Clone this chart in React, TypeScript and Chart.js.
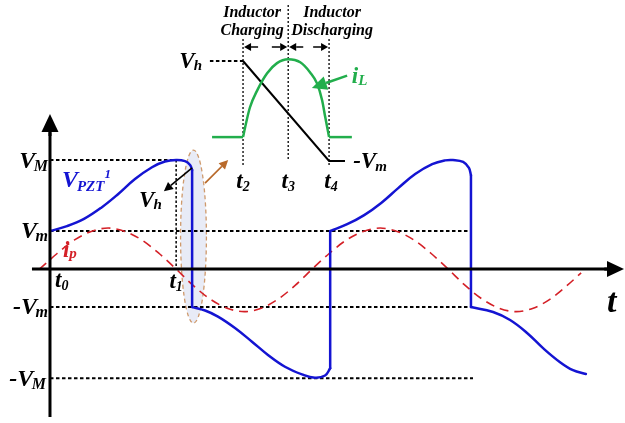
import { useEffect, useRef } from "react";
import { Chart, registerables } from "chart.js";

Chart.register(...registerables);

// ---------- Main timing diagram ----------
// time: eighths of the drive period, t0 = 0 ; voltage: normalised so that Vm = 1
const T1 = 3.71;
const V_PEAK = 2.87; // V_M
const V_MIN = 1.0; // V_m

// V_PZT smooth stretches, split at the fast switching edges
const vpztRise1: [number, number][] = [
  [0, 1.0], [0.5, 1.13], [1.0, 1.32], [1.5, 1.61], [2.0, 1.97], [2.5, 2.37],
  [3.0, 2.68], [3.38, 2.83], [3.71, 2.87], [3.97, 2.84], [4.12, 2.74], [4.18, 2.61],
];
const vpztEdge1: [number, number][] = [[4.18, 2.61], [4.18, -1.0]];
const vpztFall1: [number, number][] = [
  [4.18, -1.0], [4.56, -1.09], [4.94, -1.25], [5.44, -1.55], [5.94, -1.91], [6.41, -2.26],
  [6.91, -2.57], [7.41, -2.77], [7.79, -2.86], [8.09, -2.8], [8.24, -2.61],
];
const vpztEdge2: [number, number][] = [[8.24, -2.61], [8.24, 1.0]];
const vpztRise2: [number, number][] = [
  [8.24, 1.0], [8.74, 1.18], [9.24, 1.42], [9.74, 1.74], [10.24, 2.13], [10.74, 2.5],
  [11.24, 2.76], [11.62, 2.86], [11.85, 2.87], [12.15, 2.82], [12.32, 2.66], [12.38, 2.47],
];
const vpztEdge3: [number, number][] = [[12.38, 2.47], [12.38, -1.0]];
const vpztFall2: [number, number][] = [
  [12.38, -1.0], [13.03, -1.13], [13.53, -1.34], [14.03, -1.68], [14.5, -2.08],
  [15.0, -2.45], [15.38, -2.66], [15.76, -2.76],
];

// piezo current i_p
const ipCurve: [number, number][] = [
  [-0.31, 0], [0.21, 0.41], [0.71, 0.76], [1.21, 0.99], [1.71, 1.08], [2.21, 0.99], [2.71, 0.76], [3.21, 0.41],
  [3.71, 0], [4.21, -0.43], [4.71, -0.79], [5.21, -1.03], [5.71, -1.12], [6.21, -1.03], [6.71, -0.79], [7.21, -0.43],
  [7.71, 0], [8.21, 0.41], [8.71, 0.76], [9.21, 0.99], [9.71, 1.08], [10.21, 0.99], [10.71, 0.76], [11.21, 0.41],
  [11.71, 0], [12.21, -0.43], [12.71, -0.79], [13.21, -1.03], [13.71, -1.12], [14.21, -1.03], [14.71, -0.79],
  [15.21, -0.43], [15.62, -0.1],
];

// reference levels
const guideVM: [number, number][] = [[0, V_PEAK], [T1, V_PEAK]];
const guideT1: [number, number][] = [[T1, V_PEAK], [T1, 0]];
const guideVm: [number, number][] = [[0, V_MIN], [12.35, V_MIN]];
const guideNegVm: [number, number][] = [[0, -V_MIN], [12.35, -V_MIN]];
const guideNegVM: [number, number][] = [[0, -V_PEAK], [12.44, -V_PEAK]];

// ---------- Inset: inductor transfer (t2 = 0, t4 = 2) ----------
const T2 = 0;
const T3 = 1.05;
const T4 = 2;
const insetVhLead: [number, number][] = [[-0.77, 1], [T2, 1]];
const insetVoltage: [number, number][] = [[T2, 1], [T4, -1], [2.37, -1]];
const iLBefore: [number, number][] = [[-0.72, 0], [T2, 0]];
const iLPulse: [number, number][] = [
  [0, 0], [0.05, 0.13], [0.16, 0.38], [0.33, 0.6], [0.56, 0.82], [0.79, 0.95], [1.05, 1.0],
  [1.33, 0.96], [1.56, 0.83], [1.72, 0.69], [1.84, 0.47], [1.91, 0.26], [2.0, 0],
];
const iLAfter: [number, number][] = [[T4, 0], [2.53, 0]];
const insetT2Line: [number, number][] = [[T2, 1.44], [T2, -1.08]];
const insetT3Line: [number, number][] = [[T3, 2.12], [T3, -0.98]];
const insetT4Line: [number, number][] = [[T4, 1.44], [T4, -1.08]];

const BLUE = "#1414d2";
const RED = "#d42027";
const GREEN = "#22ae4c";
const BROWN = "#b8692a";
const FONT = '"Liberation Serif", "Times New Roman", serif';

const pts = (a: [number, number][]) => a.map(([x, y]) => ({ x, y }));

type Part = { text: string; size: number; dy?: number; kern?: number };

function drawRuns(
  ctx: CanvasRenderingContext2D,
  parts: Part[],
  x: number,
  y: number,
  color: string,
  align: "left" | "right" | "center" = "left"
) {
  ctx.save();
  ctx.fillStyle = color;
  ctx.textBaseline = "alphabetic";
  ctx.textAlign = "left";
  const widths = parts.map((p) => {
    ctx.font = `italic bold ${p.size}px ${FONT}`;
    return ctx.measureText(p.text).width + (p.kern || 0);
  });
  const total = widths.reduce((a, b) => a + b, 0);
  let cx = align === "right" ? x - total : align === "center" ? x - total / 2 : x;
  parts.forEach((p, i) => {
    ctx.font = `italic bold ${p.size}px ${FONT}`;
    ctx.fillText(p.text, cx, y + (p.dy || 0));
    cx += widths[i];
  });
  ctx.restore();
}

function drawArrow(
  ctx: CanvasRenderingContext2D,
  x1: number, y1: number, x2: number, y2: number,
  color: string, width: number, headLen: number, headHalf: number
) {
  const ang = Math.atan2(y2 - y1, x2 - x1);
  const bx = x2 - headLen * Math.cos(ang);
  const by = y2 - headLen * Math.sin(ang);
  ctx.save();
  ctx.strokeStyle = color;
  ctx.fillStyle = color;
  ctx.lineWidth = width;
  ctx.setLineDash([]);
  ctx.beginPath();
  ctx.moveTo(x1, y1);
  ctx.lineTo(bx, by);
  ctx.stroke();
  ctx.beginPath();
  ctx.moveTo(x2, y2);
  ctx.lineTo(bx + headHalf * Math.sin(ang), by - headHalf * Math.cos(ang));
  ctx.lineTo(bx - headHalf * Math.sin(ang), by + headHalf * Math.cos(ang));
  ctx.closePath();
  ctx.fill();
  ctx.restore();
}

const diagramPlugin = {
  id: "pztDiagram",
  beforeDatasetsDraw(chart: any) {
    const { ctx } = chart;
    const X = (t: number) => chart.scales.x.getPixelForValue(t);
    const Y = (v: number) => chart.scales.y.getPixelForValue(v);
    // highlight of the first switching edge
    const cx = X(4.22);
    const rx = X(4.22 + 0.38) - cx;
    const top = Y(3.13);
    const bottom = Y(-1.42);
    ctx.save();
    ctx.beginPath();
    ctx.ellipse(cx, (top + bottom) / 2, rx, (bottom - top) / 2, 0, 0, Math.PI * 2);
    ctx.fillStyle = "#e8ebf6";
    ctx.fill();
    ctx.setLineDash([4, 3]);
    ctx.strokeStyle = "#cf9a6c";
    ctx.lineWidth = 1.3;
    ctx.stroke();
    ctx.restore();
  },
  afterDatasetsDraw(chart: any) {
    const { ctx } = chart;
    const X = (t: number) => chart.scales.x.getPixelForValue(t);
    const Y = (v: number) => chart.scales.y.getPixelForValue(v);
    const XI = (t: number) => chart.scales.xi.getPixelForValue(t);
    const YV = (v: number) => chart.scales.yv.getPixelForValue(v);
    const YL = (v: number) => chart.scales.yL.getPixelForValue(v);

    // axes
    ctx.save();
    ctx.strokeStyle = "#000";
    ctx.lineWidth = 3;
    ctx.beginPath();
    ctx.moveTo(X(0), Y(-3.89));
    ctx.lineTo(X(0), Y(3.6));
    ctx.moveTo(X(-0.53), Y(0));
    ctx.lineTo(X(16.4), Y(0));
    ctx.stroke();
    ctx.restore();
    drawArrow(ctx, X(0), Y(3.5), X(0), Y(4.08), "#000", 3, 18, 8.5);
    drawArrow(ctx, X(16.3), Y(0), X(16.88), Y(0), "#000", 3, 17, 8);

    // arrows
    drawArrow(ctx, X(4.18), Y(2.66), X(3.35), Y(2.05), "#000", 1.6, 9, 4.5);
    drawArrow(ctx, X(4.56), Y(2.26), X(5.24), Y(2.87), BROWN, 1.6, 9, 4.5);
    const yA = YV(1.28);
    drawArrow(ctx, XI(0.35), yA, XI(T2) + 1, yA, "#000", 1.5, 7, 4);
    drawArrow(ctx, XI(0.67), yA, XI(T3) - 1, yA, "#000", 1.5, 7, 4);
    drawArrow(ctx, XI(1.4), yA, XI(T3) + 1, yA, "#000", 1.5, 7, 4);
    drawArrow(ctx, XI(1.63), yA, XI(T4) - 1, yA, "#000", 1.5, 7, 4);
    drawArrow(ctx, XI(2.42), YL(0.79), XI(1.6), YL(0.63), GREEN, 2.5, 15, 7);

    // level labels on the vertical axis
    const lx = X(0) - 2;
    drawRuns(ctx, [{ text: "V", size: 24, kern: -1.5 }, { text: "M", size: 16, dy: 3 }], lx, Y(V_PEAK) + 8, "#000", "right");
    drawRuns(ctx, [{ text: "V", size: 24, kern: -1.5 }, { text: "m", size: 16, dy: 3 }], lx, Y(V_MIN) + 7, "#000", "right");
    drawRuns(ctx, [{ text: "-", size: 24 }, { text: "V", size: 24, kern: -1.5 }, { text: "m", size: 16, dy: 3 }], lx, Y(-V_MIN) + 7, "#000", "right");
    drawRuns(ctx, [{ text: "-", size: 24 }, { text: "V", size: 24, kern: -1.5 }, { text: "M", size: 16, dy: 3 }], lx - 2, Y(-V_PEAK) + 8, "#000", "right");

    // waveform names
    drawRuns(ctx, [{ text: "V", size: 24, kern: -1 }, { text: "PZT", size: 15, dy: 4 }, { text: "1", size: 13, dy: -9 }], X(0.35), Y(2.16), BLUE);
    drawRuns(ctx, [{ text: "V", size: 23, kern: -1 }, { text: "h", size: 15, dy: 2 }], X(2.62), Y(1.63), "#000");
    drawRuns(ctx, [{ text: "i", size: 23, kern: 0 }, { text: "p", size: 15, dy: 1 }], X(0.38), Y(0.32), RED);

    // time marks
    drawRuns(ctx, [{ text: "t", size: 23 }, { text: "0", size: 14, dy: 3 }], X(0.15), Y(-0.47), "#000");
    drawRuns(ctx, [{ text: "t", size: 23 }, { text: "1", size: 14, dy: 3 }], X(T1), Y(-0.5), "#000", "center");
    drawRuns(ctx, [{ text: "t", size: 34 }], X(16.38), Y(-1.13), "#000");

    // inset labels
    drawRuns(ctx, [{ text: "V", size: 23, kern: -1 }, { text: "h", size: 15, dy: 2 }], XI(T2) - 41, YV(0.86), "#000", "right");
    drawRuns(ctx, [{ text: "-", size: 23 }, { text: "V", size: 23, kern: -1 }, { text: "m", size: 15, dy: 3 }], XI(2.56), YV(-1.14), "#000");
    drawRuns(ctx, [{ text: "i", size: 23 }, { text: "L", size: 15, dy: 2 }], XI(2.53), YL(0.69), GREEN);
    drawRuns(ctx, [{ text: "t", size: 23 }, { text: "2", size: 14, dy: 3 }], XI(T2), YV(-1.54), "#000", "center");
    drawRuns(ctx, [{ text: "t", size: 23 }, { text: "3", size: 14, dy: 3 }], XI(T3), YV(-1.54), "#000", "center");
    drawRuns(ctx, [{ text: "t", size: 23 }, { text: "4", size: 14, dy: 3 }], XI(T4) + 2, YV(-1.54), "#000", "center");
    drawRuns(ctx, [{ text: "Inductor", size: 16 }], XI(0.21), YV(1.88), "#000", "center");
    drawRuns(ctx, [{ text: "Charging", size: 16 }], XI(0.21), YV(1.52), "#000", "center");
    drawRuns(ctx, [{ text: "Inductor", size: 16 }], XI(2.07), YV(1.88), "#000", "center");
    drawRuns(ctx, [{ text: "Discharging", size: 16 }], XI(2.07), YV(1.52), "#000", "center");
  },
};

export default function App() {
  const canvasRef = useRef<HTMLCanvasElement | null>(null);

  useEffect(() => {
    if (!canvasRef.current) return;
    const dotted = (data: [number, number][], extra: any = {}) => ({
      data: pts(data),
      borderColor: "#000",
      borderWidth: 2,
      borderDash: [3.5, 2.5],
      tension: 0,
      order: 6,
      ...extra,
    });
    const blueSmooth = (data: [number, number][]) => ({
      data: pts(data),
      borderColor: BLUE,
      borderWidth: 2.5,
      tension: 0.4,
      borderJoinStyle: "round",
      borderCapStyle: "round",
      order: 1,
    });
    const blueEdge = (data: [number, number][]) => ({
      data: pts(data),
      borderColor: BLUE,
      borderWidth: 2.5,
      tension: 0,
      borderCapStyle: "round",
      order: 1,
    });
    const inset = (data: [number, number][], y: string, extra: any) => ({
      data: pts(data),
      xAxisID: "xi",
      yAxisID: y,
      tension: 0,
      ...extra,
    });

    const chart = new Chart(canvasRef.current, {
      type: "line",
      data: {
        datasets: [
          dotted(guideVM),
          dotted(guideT1, { borderWidth: 1.5, borderDash: [2.5, 2] }),
          dotted(guideVm),
          dotted(guideNegVm),
          dotted(guideNegVM),
          {
            data: pts(ipCurve),
            borderColor: RED,
            borderWidth: 1.6,
            borderDash: [9, 6],
            cubicInterpolationMode: "monotone",
            order: 4,
          },
          blueSmooth(vpztRise1),
          blueEdge(vpztEdge1),
          blueSmooth(vpztFall1),
          blueEdge(vpztEdge2),
          blueSmooth(vpztRise2),
          blueEdge(vpztEdge3),
          blueSmooth(vpztFall2),
          inset(insetT2Line, "yv", { borderColor: "#000", borderWidth: 1.3, borderDash: [2, 2], order: 7 }),
          inset(insetT3Line, "yv", { borderColor: "#000", borderWidth: 1.3, borderDash: [2, 2], order: 7 }),
          inset(insetT4Line, "yv", { borderColor: "#000", borderWidth: 1.3, borderDash: [2, 2], order: 7 }),
          inset(insetVhLead, "yv", { borderColor: "#000", borderWidth: 2, borderDash: [3.5, 2.5], order: 5 }),
          inset(insetVoltage, "yv", { borderColor: "#000", borderWidth: 2, order: 3 }),
          inset(iLBefore, "yL", { borderColor: GREEN, borderWidth: 2.5, order: 2 }),
          inset(iLPulse, "yL", { borderColor: GREEN, borderWidth: 2.5, cubicInterpolationMode: "monotone", order: 2 }),
          inset(iLAfter, "yL", { borderColor: GREEN, borderWidth: 2.5, order: 2 }),
        ] as any,
      },
      options: {
        responsive: false,
        animation: false,
        events: [],
        layout: { padding: 0 },
        elements: { point: { radius: 0, hoverRadius: 0 } },
        plugins: {
          legend: { display: false },
          tooltip: { enabled: false },
          title: { display: false },
        },
        scales: {
          x: { type: "linear", min: -1.47, max: 16.91, display: false },
          y: { type: "linear", min: -4.05, max: 7.08, display: false },
          xi: { type: "linear", axis: "x", min: -5.65, max: 8.88, display: false },
          yv: { type: "linear", axis: "y", min: -6.24, max: 2.22, display: false },
          yL: { type: "linear", axis: "y", min: -3.67, max: 1.76, display: false },
        },
      } as any,
      plugins: [diagramPlugin],
    });
    return () => chart.destroy();
  }, []);

  return (
    <div style={{ position: "absolute", left: 0, top: 0, width: 625, height: 423, background: "#fff" }}>
      <canvas ref={canvasRef} width={625} height={423} style={{ display: "block" }} />
    </div>
  );
}
